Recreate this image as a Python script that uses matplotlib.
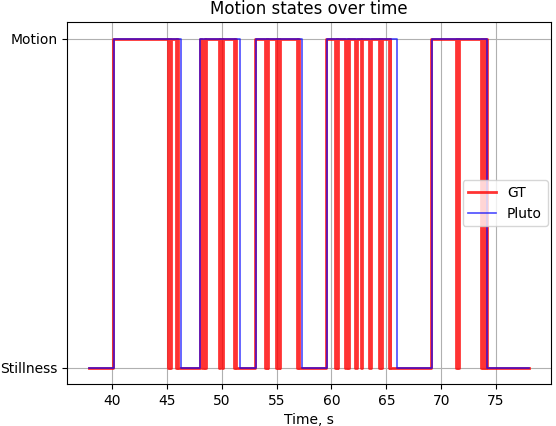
import matplotlib
matplotlib.use('Agg')
import matplotlib.pyplot as plt
import numpy as np

t_start = 37.9
t_end = 78.0

# times where the state flips (starts in Stillness)
gt_switch = [40.12,
             45.12, 45.22, 45.28, 45.36, 45.86, 45.92, 46.0,
             47.98,
             48.22, 48.34, 48.45, 48.6,
             49.72, 49.85, 49.98, 50.1,
             51.14, 51.2, 51.26,
             53.05,
             53.98, 54.1, 54.15, 54.22,
             54.9, 55.02, 55.12, 55.22, 55.26, 55.3,
             56.9, 56.98, 57.06,
             59.5,
             60.36, 60.46, 60.52, 60.62,
             61.27, 61.38, 61.46, 61.58,
             62.16, 62.34,
             62.67, 62.79,
             63.42, 63.61,
             64.33, 64.43, 64.5, 64.6,
             65.23, 65.3, 65.35,
             69.1,
             71.35, 71.45, 71.5, 71.58,
             73.6, 73.7, 73.78, 73.88, 73.95, 74.05, 74.14]

pluto_switch = [40.15, 46.3, 48.02, 51.7, 53.08, 57.3, 59.55, 66.0, 69.12, 74.17]

state_labels = ['Stillness', 'Motion']
x_ticks = [40, 45, 50, 55, 60, 65, 70, 75]


def to_steps(switch):
    t = [t_start] + list(switch) + [t_end]
    s = [0]
    for i in range(len(switch)):
        s.append(1 - s[-1])
    s.append(s[-1])
    return np.array(t), np.array(s)


gt_t, gt_s = to_steps(gt_switch)
pl_t, pl_s = to_steps(pluto_switch)

fig = plt.figure(figsize=(5.56, 4.26), dpi=100)
ax = fig.add_subplot(111)
ax.plot(gt_t, gt_s, drawstyle='steps-post', color='r', alpha=0.8, lw=2, label='GT')
ax.plot(pl_t, pl_s, drawstyle='steps-post', color='b', alpha=0.7, lw=1.2, label='Pluto')

ax.set_yticks([0, 1])
ax.set_yticklabels(state_labels)
ax.set_xticks(x_ticks)
ax.set_xlabel('Time, s')
ax.set_title('Motion states over time')
ax.grid(True)
ax.legend(loc='center right', borderaxespad=0.25)

plt.subplots_adjust(left=0.1205, right=0.991, top=0.948, bottom=0.0986)
plt.savefig('out.png', dpi=100)
